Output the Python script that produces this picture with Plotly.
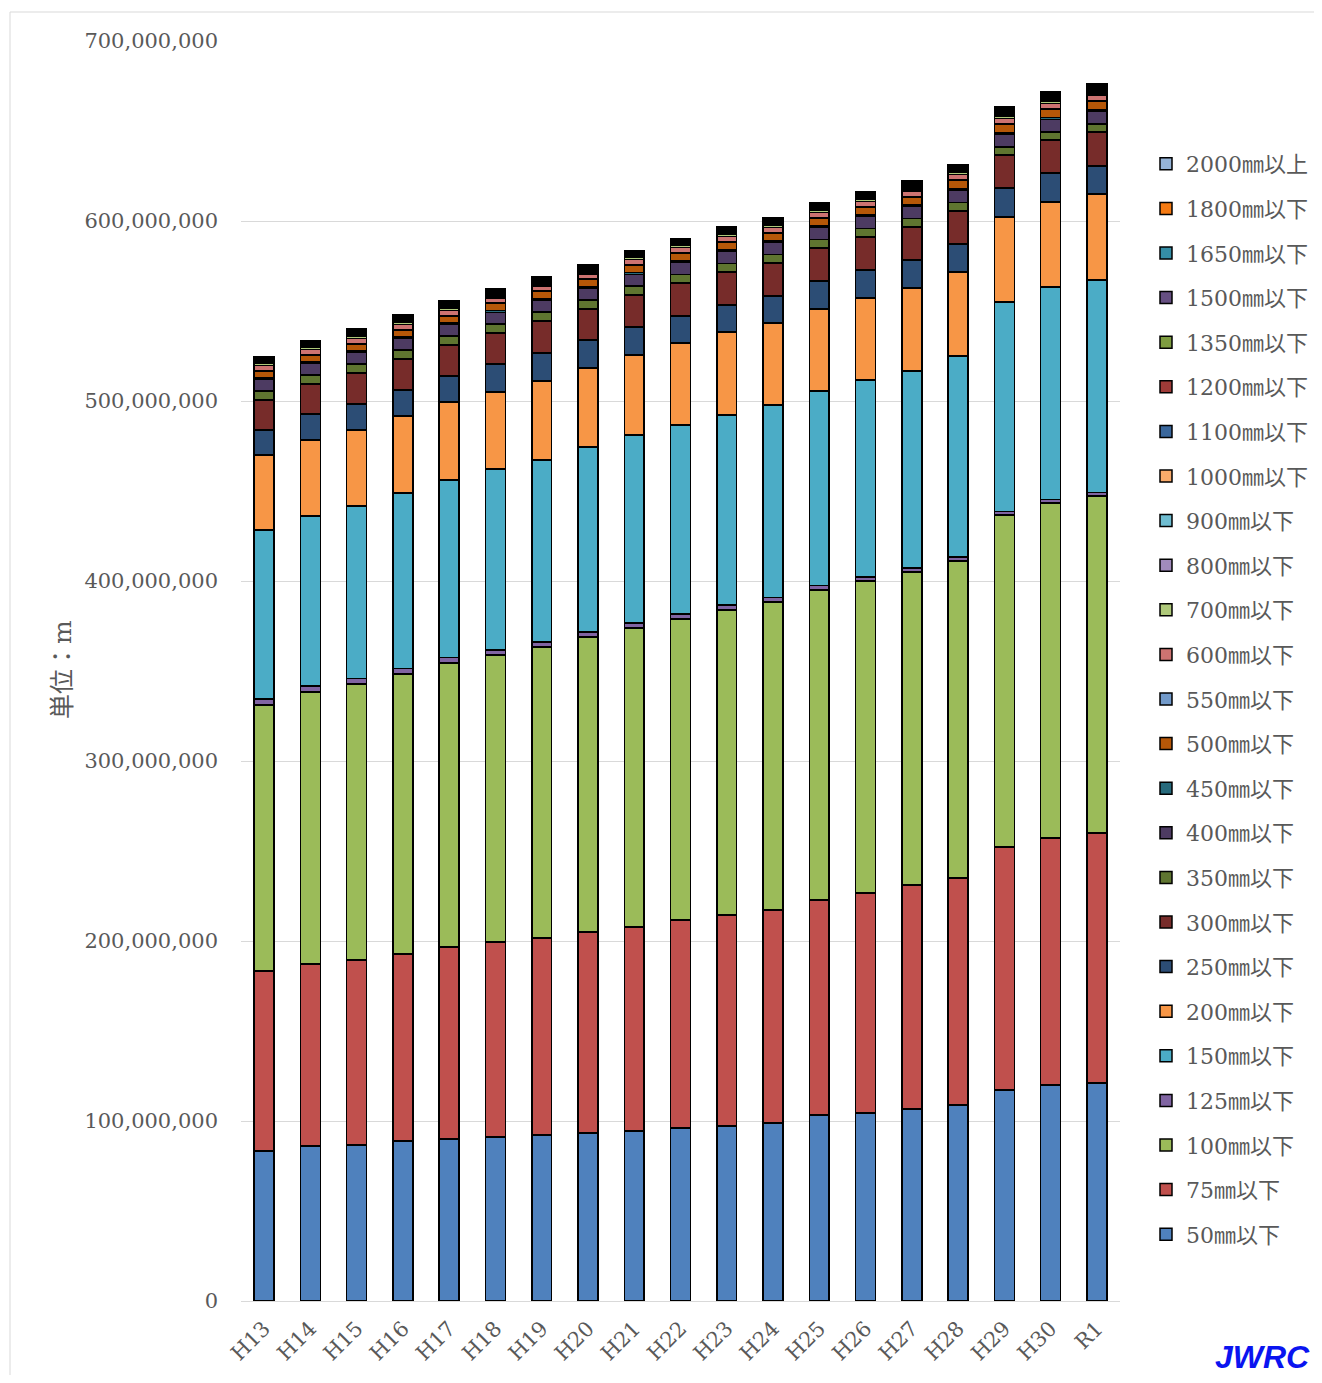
import plotly.graph_objects as go

years = ["H13", "H14", "H15", "H16", "H17", "H18", "H19", "H20", "H21", "H22",
         "H23", "H24", "H25", "H26", "H27", "H28", "H29", "H30", "R1"]

# values in millions of metres
d50 = [83.3, 86.1, 86.7, 88.9, 90.0, 91.1, 92.2, 93.3, 94.4, 96.1, 97.2, 98.9, 103.3, 104.4, 106.7, 108.9, 117.2, 120.0, 121.1]
d75 = [100.0, 101.1, 102.7, 103.9, 106.7, 108.3, 109.5, 111.7, 113.4, 115.6, 117.2, 118.3, 119.5, 122.3, 124.4, 126.1, 135.0, 137.2, 138.9]
d100 = [147.8, 151.1, 153.4, 155.5, 157.7, 159.5, 161.6, 163.9, 166.1, 167.2, 169.5, 171.1, 172.2, 173.3, 173.9, 176.1, 184.5, 186.1, 187.2]
d125 = [3.3, 3.3, 3.0, 3.0, 3.0, 2.9, 2.8, 2.8, 2.8, 2.7, 2.7, 2.5, 2.4, 2.3, 2.2, 2.2, 2.0, 2.0, 1.9]
d150 = [93.9, 94.5, 95.9, 97.6, 98.7, 100.4, 101.1, 102.7, 104.4, 105.1, 105.6, 107.0, 108.2, 109.4, 109.5, 111.7, 116.3, 118.0, 118.1]
d200 = [41.7, 42.2, 42.2, 42.8, 43.3, 42.8, 43.9, 43.9, 44.5, 45.5, 46.1, 45.5, 45.5, 45.5, 46.1, 46.7, 47.2, 47.3, 47.8]
d250 = [13.9, 14.5, 14.4, 14.4, 14.5, 15.6, 15.6, 15.6, 15.5, 15.0, 15.0, 15.0, 15.6, 15.6, 15.5, 15.5, 16.1, 16.1, 15.6]
d300 = [16.7, 16.6, 17.3, 17.2, 17.2, 17.2, 17.7, 17.2, 17.8, 18.4, 18.4, 18.4, 18.3, 18.3, 18.4, 18.4, 18.4, 18.3, 18.8]
d350 = [5.0, 5.0, 5.0, 5.0, 5.0, 5.0, 5.0, 4.9, 4.9, 4.8, 4.8, 4.7, 4.7, 4.6, 4.6, 4.6, 4.5, 4.5, 4.4]
d400 = [6.4, 6.4, 6.4, 6.4, 6.4, 6.5, 6.5, 6.5, 6.6, 6.6, 6.6, 6.7, 6.7, 6.8, 6.8, 6.9, 7.0, 7.0, 7.1]
d450 = [0.9, 0.9, 0.9, 0.9, 0.9, 0.9, 0.9, 0.9, 0.9, 0.9, 0.9, 0.9, 0.9, 0.9, 0.9, 0.9, 0.9, 0.9, 0.9]
d500 = [3.6, 3.7, 3.8, 3.8, 3.9, 3.9, 4.0, 4.0, 4.1, 4.1, 4.2, 4.2, 4.3, 4.3, 4.4, 4.5, 4.6, 4.7, 4.8]
d550 = [0.3, 0.3, 0.3, 0.3, 0.3, 0.3, 0.3, 0.3, 0.3, 0.3, 0.3, 0.3, 0.3, 0.3, 0.3, 0.3, 0.3, 0.3, 0.3]
d600 = [2.8, 2.8, 2.8, 2.8, 2.8, 2.8, 2.8, 2.9, 2.9, 2.9, 2.9, 2.9, 2.9, 2.9, 3.0, 3.0, 3.0, 3.0, 3.0]
d700 = [1.2, 1.2, 1.2, 1.2, 1.2, 1.2, 1.2, 1.2, 1.1, 1.1, 1.1, 1.1, 1.1, 1.1, 1.1, 1.1, 1.1, 1.1, 1.1]
d800 = [0.3, 0.3, 0.3, 0.3, 0.3, 0.3, 0.3, 0.3, 0.3, 0.3, 0.4, 0.4, 0.4, 0.4, 0.4, 0.4, 0.5, 0.5, 0.5]
d900 = [0.4, 0.4, 0.4, 0.4, 0.4, 0.4, 0.4, 0.4, 0.4, 0.4, 0.4, 0.4, 0.4, 0.4, 0.4, 0.5, 0.5, 0.5, 0.5]
d1000 = [0.4, 0.4, 0.4, 0.4, 0.4, 0.4, 0.4, 0.4, 0.4, 0.4, 0.4, 0.4, 0.4, 0.4, 0.5, 0.5, 0.5, 0.5, 0.5]
d1100 = [0.5, 0.5, 0.5, 0.5, 0.5, 0.5, 0.5, 0.5, 0.5, 0.5, 0.5, 0.6, 0.6, 0.6, 0.6, 0.6, 0.7, 0.7, 0.7]
d1200 = [0.5, 0.5, 0.5, 0.5, 0.5, 0.5, 0.5, 0.5, 0.5, 0.5, 0.5, 0.6, 0.6, 0.6, 0.6, 0.6, 0.7, 0.7, 0.7]
d1350 = [0.4, 0.4, 0.4, 0.4, 0.4, 0.4, 0.4, 0.4, 0.4, 0.4, 0.4, 0.4, 0.4, 0.4, 0.4, 0.4, 0.5, 0.5, 0.5]
d1500 = [0.4, 0.4, 0.4, 0.4, 0.4, 0.4, 0.4, 0.4, 0.4, 0.4, 0.4, 0.4, 0.4, 0.4, 0.4, 0.4, 0.5, 0.5, 0.5]
d1650 = [0.3, 0.3, 0.3, 0.3, 0.3, 0.3, 0.3, 0.3, 0.3, 0.3, 0.3, 0.3, 0.3, 0.3, 0.3, 0.3, 0.3, 0.3, 0.3]
d1800 = [0.3, 0.3, 0.3, 0.3, 0.3, 0.3, 0.3, 0.3, 0.3, 0.3, 0.3, 0.3, 0.3, 0.3, 0.3, 0.3, 0.4, 0.4, 0.4]
d2000 = [0.5, 0.5, 0.5, 0.5, 0.5, 0.5, 0.5, 0.5, 0.5, 0.5, 0.5, 0.5, 0.6, 0.6, 0.6, 0.6, 0.7, 0.7, 0.7]

series_names = ["50㎜以下", "75㎜以下", "100㎜以下", "125㎜以下", "150㎜以下", "200㎜以下",
                "250㎜以下", "300㎜以下", "350㎜以下", "400㎜以下", "450㎜以下", "500㎜以下",
                "550㎜以下", "600㎜以下", "700㎜以下", "800㎜以下", "900㎜以下", "1000㎜以下",
                "1100㎜以下", "1200㎜以下", "1350㎜以下", "1500㎜以下", "1650㎜以下",
                "1800㎜以下", "2000㎜以上"]
series_values = [d50, d75, d100, d125, d150, d200, d250, d300, d350, d400, d450, d500,
                 d550, d600, d700, d800, d900, d1000, d1100, d1200, d1350, d1500, d1650,
                 d1800, d2000]
series_colors = ["#4F81BD", "#C0504D", "#9BBB59", "#8064A2", "#4BACC6", "#F79646",
                 "#2C4D75", "#772C2A", "#5F7530", "#4D3B62", "#276A7C", "#B65708",
                 "#729ACA", "#CD7371", "#AFC97A", "#A18BBC", "#6FBDD1", "#F9AB6B",
                 "#3A679C", "#9F3B38", "#7E9C40", "#664F82", "#358EA6", "#F57A12",
                 "#95B3D7"]

SERIF = "DejaVu Serif, Noto Sans CJK JP, serif"
GRAY = "#595959"

n = len(series_names)
fig = go.Figure()
for i, (name, vals, col) in enumerate(zip(series_names, series_values, series_colors)):
    fig.add_trace(go.Bar(
        x=years, y=[v * 1e6 for v in vals], name=name, legendgroup=name,
        legendrank=100 + (n - i),
        marker=dict(color=col, line=dict(color="#000000", width=1.5)),
    ))

# page body has an 8px margin: lay out in reference pixel coords shifted by 8
OFF = 8
W0, H0 = 1322 - 2 * OFF, 1383 - 2 * OFF
L, T = 241 - OFF, 41 - OFF
pw, ph = 879, 1260
R = W0 - L - pw
B = H0 - T - ph

def px(x):
    return (x - 241) / pw

def py(y):
    return (1301 - y) / ph

fig.update_layout(
    width=W0, height=H0,
    margin=dict(l=L, r=R, t=T, b=B, autoexpand=False),
    barmode="stack", bargap=0.57,
    plot_bgcolor="white", paper_bgcolor="white",
    font=dict(family=SERIF, color=GRAY, size=21),
    showlegend=True,
    legend=dict(
        x=px(1146), y=py(143), xanchor="left", yanchor="top",
        traceorder="grouped", tracegroupgap=13,
        font=dict(family=SERIF, size=22, color=GRAY),
        bgcolor="rgba(0,0,0,0)",
    ),
    xaxis=dict(
        tickangle=-45, showgrid=False, showline=False, zeroline=False,
        ticklabelstandoff=10,
        tickfont=dict(family=SERIF, size=21, color=GRAY),
    ),
    yaxis=dict(
        range=[0, 700e6], dtick=100e6, tickformat=",d",
        showgrid=True, gridcolor="#D9D9D9", gridwidth=1,
        zeroline=True, zerolinecolor="#D9D9D9", zerolinewidth=1,
        showline=False, ticklabelstandoff=22,
        tickfont=dict(family=SERIF, size=21, color=GRAY),
    ),
    shapes=[
        dict(type="rect", xref="paper", yref="paper",
             x0=px(10), x1=px(1400), y0=py(1450), y1=py(12),
             line=dict(color="#D9D9D9", width=1), layer="below"),
    ],
    annotations=[
        dict(text="単位：m", x=px(62), y=py(670), xref="paper", yref="paper",
             xanchor="center", yanchor="middle",
             showarrow=False, textangle=-90,
             font=dict(family=SERIF, size=25, color=GRAY)),
        dict(text="<b><i>JWRC</i></b>", x=px(1262), y=py(1357), xref="paper", yref="paper",
             xanchor="center", yanchor="middle", showarrow=False,
             font=dict(family="Liberation Sans, Arial, sans-serif", size=32, color="#0A14F0")),
    ],
)

fig.write_html("out.html")
